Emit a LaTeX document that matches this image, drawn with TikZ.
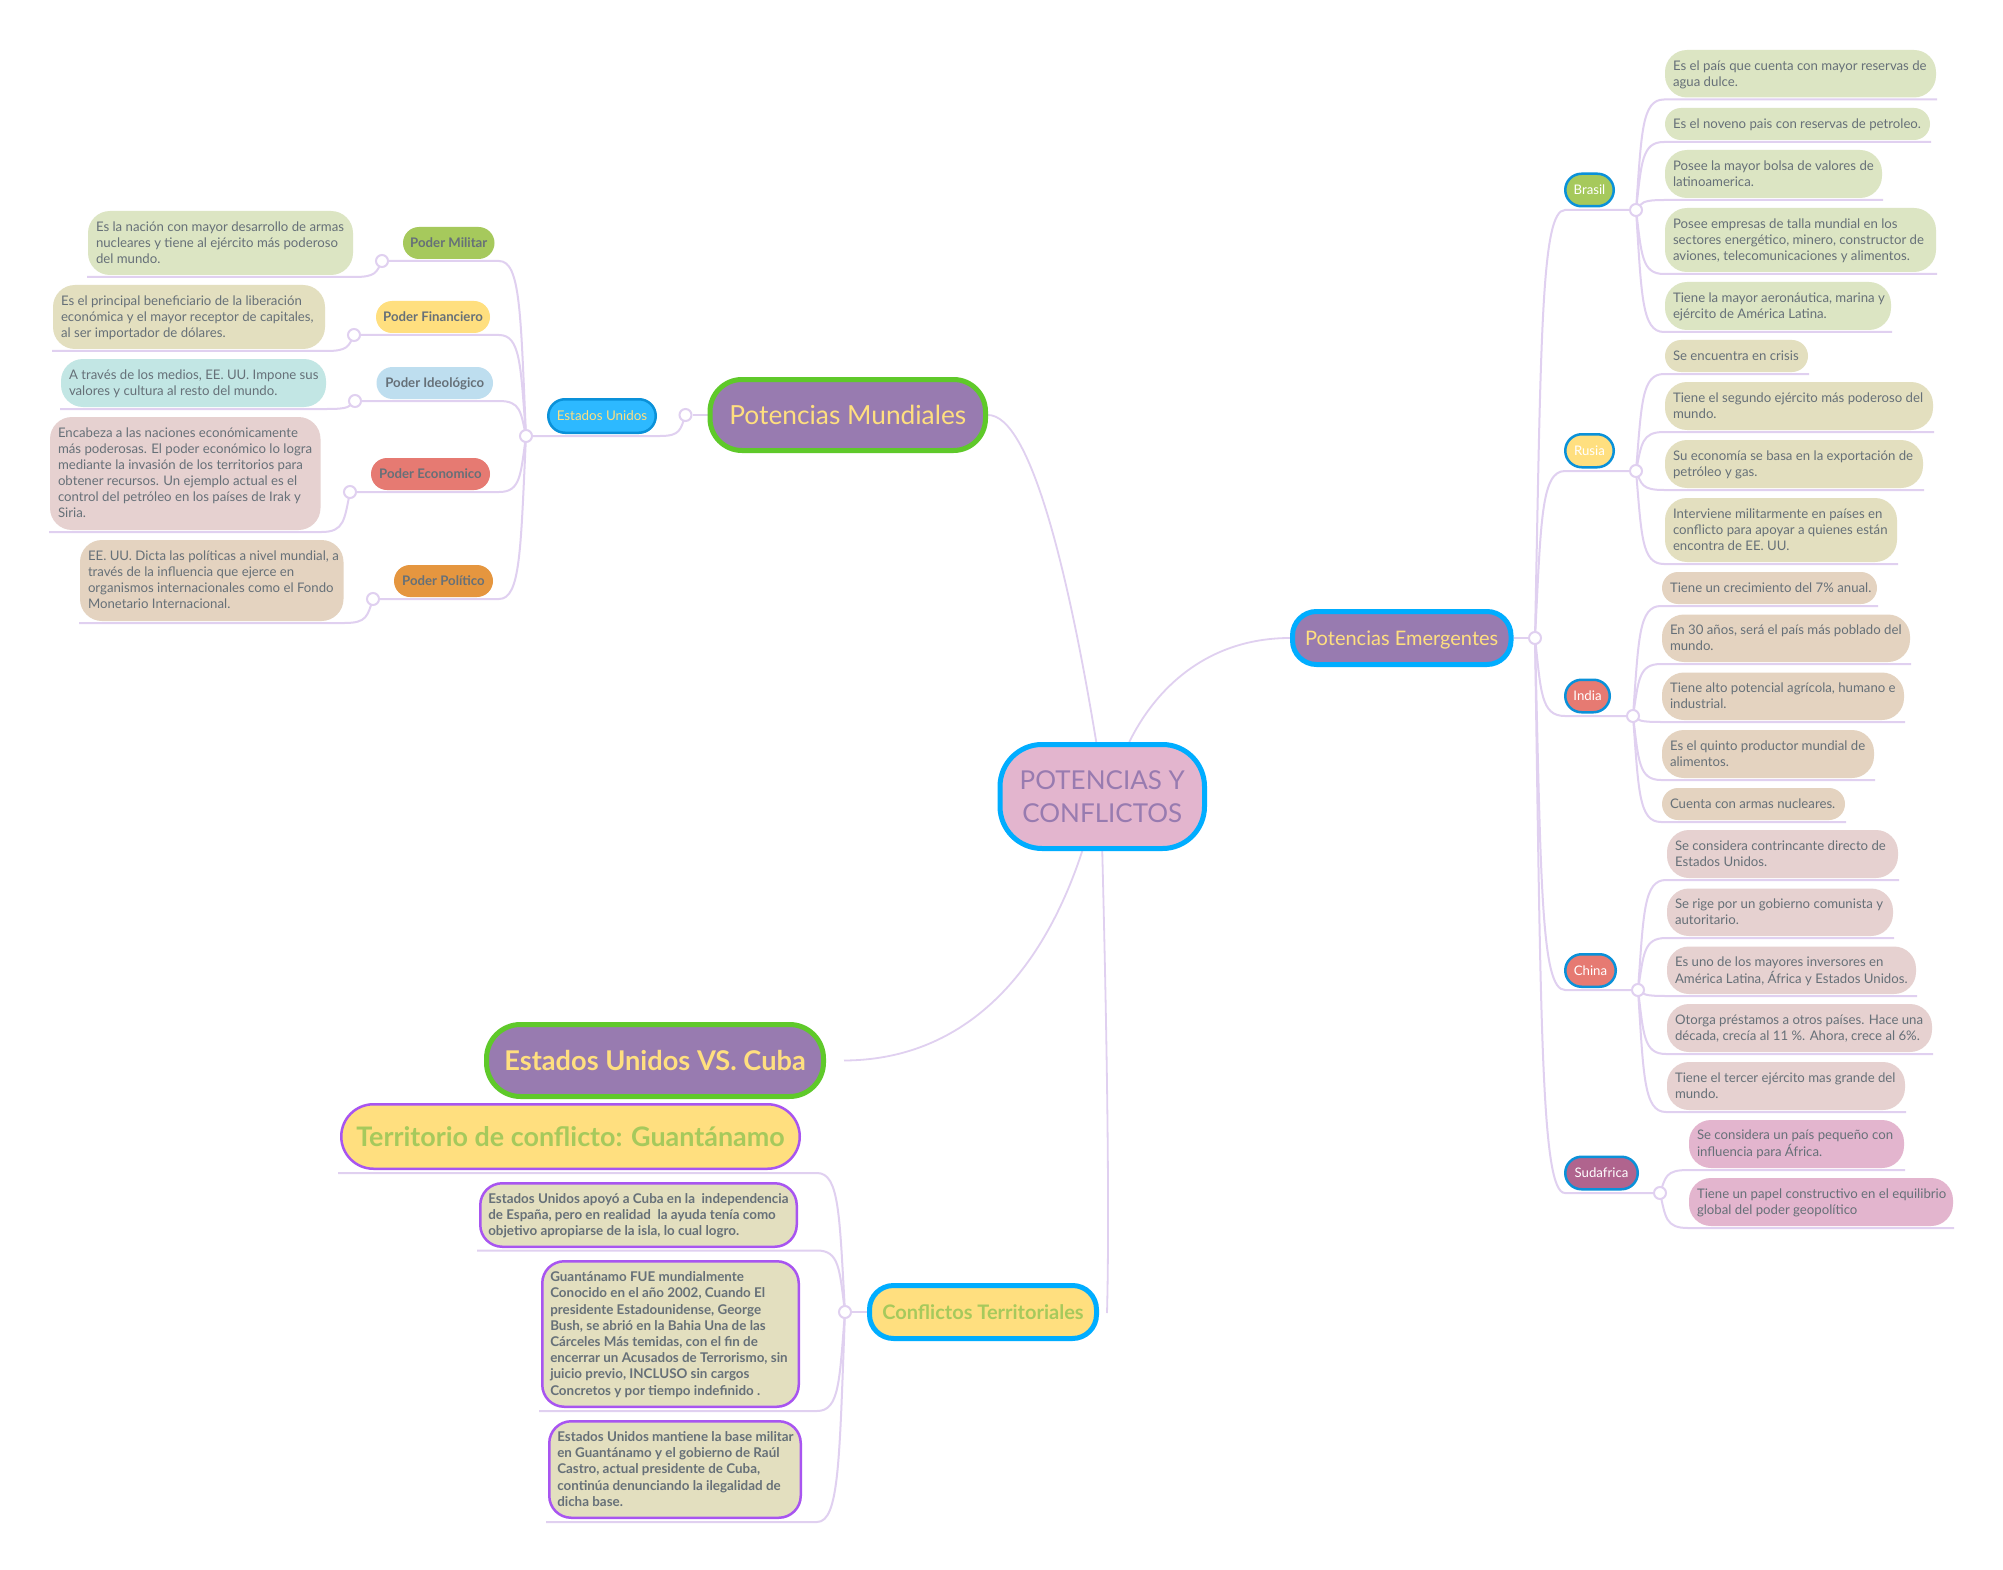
\documentclass[tikz,border=0pt]{standalone}
\usepackage{fontspec}
\setmainfont{Lato}
\usetikzlibrary{calc}
\pgfdeclarelayer{bg}
\pgfsetlayers{bg,main}
\definecolor{ln}{HTML}{E0D0F0}
\definecolor{tg}{HTML}{667078}
\definecolor{pur}{HTML}{987BB0}
\definecolor{pink}{HTML}{E3B5CE}
\definecolor{yel}{HTML}{FFDF7F}
\definecolor{grn}{HTML}{A6C95C}
\definecolor{redd}{HTML}{E67A72}
\definecolor{orng}{HTML}{E5963F}
\definecolor{lblue}{HTML}{BEDEEF}
\definecolor{mag}{HTML}{B0648E}
\definecolor{skyb}{HTML}{2DB9FF}
\definecolor{bdblue}{HTML}{00ADFF}
\definecolor{bdgreen}{HTML}{5FC92A}
\definecolor{bdpur}{HTML}{A855F0}
\definecolor{bdco}{HTML}{0A91D9}
\definecolor{lgreen}{HTML}{DCE5C3}
\definecolor{lkhaki}{HTML}{E3DFBF}
\definecolor{lsand}{HTML}{E4D3C0}
\definecolor{lrose}{HTML}{E6D1D0}
\definecolor{lteal}{HTML}{C2E6E4}
\tikzset{
  x=1pt,y=-1pt,
  conn/.style={draw=ln,line width=2pt},
  hubc/.style={circle,draw=ln,line width=2pt,fill=white,minimum size=12pt,inner sep=0pt},
  leaftxt/.style={text=tg,font=\fontsize{13.2}{16}\selectfont},
  smallb/.style={font=\fontsize{13.2}{15.6}\bfseries\selectfont,text=tg,text height=9.5pt,text depth=0pt},
  country/.style={draw=bdco,font=\fontsize{13.2}{15.6}\selectfont,text=white},
  confl/.style={draw=bdpur,text=tg,font=\fontsize{13.4}{16.2}\bfseries\selectfont},
}
% style, name, x1, y1, x2, y2, radius, line width, text
\newcommand\bx[9]{%
  \pgfmathsetmacro\bxw{#5-#3-#8}%
  \pgfmathsetmacro\bxh{#6-#4-#8}%
  \pgfmathsetmacro\bxr{min(\bxh/2-0.01,#7)}%
  \node[rectangle,align=left,#1,inner sep=0pt,line width=#8pt,rounded corners=\bxr pt,
        minimum width=\bxw pt,minimum height=\bxh pt] (#2) at ({(#3+#5)/2},{(#4+#6)/2}) {#9};
}
% left-aligned text block with a given side padding
\newcommand\lefttxt[2]{\makebox[\dimexpr\bxw pt-#1pt-#1pt\relax][l]{\raisebox{-1.2pt}[\height][\depth]{\begin{tabular}{@{}l@{}}#2\end{tabular}}}}
% leaf: fill, name, x1,y1,x2,y2, text; defines name-l and name-r on its underline
\newcommand\leaf[7]{%
  \bx{leaftxt,fill=#1}{#2}{#3}{#4}{#5}{#6}{22}{0}{\lefttxt{8}{#7}}%
  \coordinate (#2-l) at ({#3-1},{#6+2});
  \coordinate (#2-r) at ({#5+1},{#6+2});
}
% hub, near point, far point: curve then straight
\newcommand\conn[3]{%
  \path[conn] let \p1=(#1.center),\p2=(#2) in
    (\p1) .. controls ({\x1+0.2*(\x2-\x1)},{\y1+0.7*(\y2-\y1)}) and ({\x1+0.2*(\x2-\x1)},\y2) .. (\p2) -- (#3);
}
\begin{document}
\begin{tikzpicture}
\useasboundingbox (0,0) rectangle (2003,1570);

% --- main topics
\bx{draw=bdblue,fill=pink,text=pur,font=\fontsize{26}{33}\selectfont,align=center}{root}{997.5}{742}{1207}{851}{42}{5}{POTENCIAS Y\\CONFLICTOS}
\bx{draw=bdgreen,fill=pur,text=yel,font=\fontsize{26.3}{31}\selectfont}{pm}{707.5}{377}{988}{453}{32}{5}{Potencias Mundiales}
\bx{draw=bdblue,fill=pur,text=yel,font=\fontsize{20}{24}\selectfont,text height=14.5pt,text depth=0pt}{pe}{1290}{609}{1513.5}{667}{24}{5}{Potencias Emergentes}
\bx{draw=bdgreen,fill=pur,text=yel,font=\fontsize{27.2}{31}\bfseries\selectfont}{cu}{484}{1022}{826}{1099}{34}{5}{Estados Unidos VS. Cuba}
\bx{draw=bdblue,fill=yel,text=grn,font=\fontsize{20}{24}\bfseries\selectfont}{ct}{867}{1283}{1099}{1341}{24}{5}{Conflictos Territoriales}

% --- Estados Unidos branch
\bx{draw=bdco,fill=skyb,text=yel,font=\fontsize{13.4}{15.6}\selectfont}{eu}{547}{398}{657}{434}{18}{2.5}{Estados Unidos}
\coordinate (eu-r) at (660,436);
\node[hubc] (cpm) at (685.5,415) {};
\node[hubc] (heu) at (526,436) {};

\bx{smallb,fill=grn}{pmil}{403}{227}{494.5}{259}{16}{0}{Poder Militar}
\bx{smallb,fill=yel}{pfin}{376}{301}{490}{333}{16}{0}{Poder Financiero}
\bx{smallb,fill=lblue}{pide}{376.5}{367}{493}{399}{16}{0}{Poder Ideológico}
\bx{smallb,fill=redd}{peco}{371}{458}{490}{490}{16}{0}{Poder Economico}
\bx{smallb,fill=orng}{ppol}{394}{565}{493}{597}{16}{0}{Poder Político}
\coordinate (pmil-n) at (499,261);
\coordinate (pfin-n) at (499,335);
\coordinate (pide-n) at (499,401);
\coordinate (peco-n) at (499,492);
\coordinate (ppol-n) at (499,599);
\node[hubc] (cmil) at (382,261) {};
\node[hubc] (cfin) at (354,335) {};
\node[hubc] (cide) at (355,401) {};
\node[hubc] (ceco) at (350,492) {};
\node[hubc] (cpol) at (373,599) {};

\leaf{lgreen}{lmil}{88}{211}{353}{275}{Es la nación con mayor desarrollo de armas\\nucleares y tiene al ejército más poderoso\\del mundo.}
\leaf{lkhaki}{lfin}{53}{285}{325}{349}{Es el principal beneficiario de la liberación\\económica y el mayor receptor de capitales,\\al ser importador de dólares.}
\leaf{lteal}{lide}{61}{359}{326}{407}{A través de los medios, EE. UU. Impone sus\\valores y cultura al resto del mundo.}
\leaf{lrose}{leco}{50}{417}{320.5}{530}{Encabeza a las naciones económicamente\\más poderosas. El poder económico lo logra\\mediante la invasión de los territorios para\\obtener recursos. Un ejemplo actual es el\\control del petróleo en los países de Irak y\\Siria.}
\leaf{lsand}{lpol}{80}{540}{343.5}{621}{EE. UU. Dicta las políticas a nivel mundial, a\\través de la influencia que ejerce en\\organismos internacionales como el Fondo\\Monetario Internacional.}

% --- Emergentes branch
\node[hubc] (cpe) at (1535,638) {};
\bx{country,fill=grn}{bra}{1564}{172.5}{1615}{207.5}{17}{2.5}{Brasil}
\bx{country,fill=yel}{rus}{1564}{433}{1615}{468.5}{17}{2.5}{Rusia}
\bx{country,fill=redd}{ind}{1564}{678.5}{1611}{713.5}{17}{2.5}{India}
\bx{country,fill=redd}{chi}{1564}{953}{1617}{988}{17}{2.5}{China}
\bx{country,fill=mag}{sud}{1564}{1155.5}{1639}{1190.5}{17}{2.5}{Sudafrica}
\coordinate (bra-n) at (1565,210);
\coordinate (rus-n) at (1565,471);
\coordinate (ind-n) at (1565,716);
\coordinate (chi-n) at (1565,990);
\coordinate (sud-n) at (1565,1193);
\node[hubc] (cbra) at (1636,210) {};
\node[hubc] (crus) at (1636,471) {};
\node[hubc] (cind) at (1633,716) {};
\node[hubc] (cchi) at (1638,990) {};
\node[hubc] (csud) at (1660,1193) {};

\leaf{lgreen}{b1}{1665}{50}{1936}{97.5}{Es el país que cuenta con mayor reservas de\\agua dulce.}
\leaf{lgreen}{b2}{1665}{108}{1930}{140}{Es el noveno pais con reservas de petroleo.}
\leaf{lgreen}{b3}{1665}{150}{1882}{198}{Posee la mayor bolsa de valores de\\latinoamerica.}
\leaf{lgreen}{b4}{1665}{208}{1936}{272}{Posee empresas de talla mundial en los\\sectores energético, minero, constructor de\\aviones, telecomunicaciones y alimentos.}
\leaf{lgreen}{b5}{1665}{282}{1891}{330}{Tiene la mayor aeronáutica, marina y\\ejército de América Latina.}

\leaf{lkhaki}{r1}{1665}{340}{1808}{372}{Se encuentra en crisis}
\leaf{lkhaki}{r2}{1665}{382}{1933}{430}{Tiene el segundo ejército más poderoso del\\mundo.}
\leaf{lkhaki}{r3}{1665}{440}{1923}{488}{Su economía se basa en la exportación de\\petróleo y gas.}
\leaf{lkhaki}{r4}{1665}{498}{1897}{562}{Interviene militarmente en países en\\conflicto para apoyar a quienes están\\encontra de EE. UU.}

\leaf{lsand}{i1}{1662}{572}{1877}{604}{Tiene un crecimiento del 7\% anual.}
\leaf{lsand}{i2}{1662}{614.5}{1910}{662}{En 30 años, será el país más poblado del\\mundo.}
\leaf{lsand}{i3}{1662}{672.5}{1904}{720}{Tiene alto potencial agrícola, humano e\\industrial.}
\leaf{lsand}{i4}{1662}{730}{1874}{778}{Es el quinto productor mundial de\\alimentos.}
\leaf{lsand}{i5}{1662}{788}{1845}{820}{Cuenta con armas nucleares.}

\leaf{lrose}{c1}{1667}{830}{1898}{878}{Se considera contrincante directo de\\Estados Unidos.}
\leaf{lrose}{c2}{1667}{888.5}{1893}{936}{Se rige por un gobierno comunista y\\autoritario.}
\leaf{lrose}{c3}{1667}{946.5}{1916}{994}{Es uno de los mayores inversores en\\América Latina, África y Estados Unidos.}
\leaf{lrose}{c4}{1667}{1004}{1932}{1052}{Otorga préstamos a otros países. Hace una\\década, crecía al 11 \%. Ahora, crece al 6\%.}
\leaf{lrose}{c5}{1667}{1062}{1905}{1110}{Tiene el tercer ejército mas grande del\\mundo.}

\leaf{pink}{s1}{1689}{1120}{1904}{1168}{Se considera un país pequeño con\\influencia para África.}
\leaf{pink}{s2}{1689}{1178}{1953}{1226}{Tiene un papel constructivo en el equilibrio\\global del poder geopolítico}

% --- Conflictos branch
\node[hubc] (cct) at (845,1312) {};
\bx{draw=bdpur,fill=yel,text=grn,font=\fontsize{26.9}{31}\bfseries\selectfont}{te}{340}{1103}{801}{1170}{36}{2.5}{Territorio de conflicto: Guantánamo}
\bx{confl,fill=lkhaki}{k1}{479}{1182}{798}{1248}{22}{2.5}{\lefttxt{8}{Estados Unidos apoyó a Cuba en la~ independencia\\de España, pero en realidad~ la ayuda tenía como\\objetivo apropiarse de la isla, lo cual logro.}}
\bx{confl,fill=lkhaki}{k2}{541}{1260}{800}{1408}{22}{2.5}{\lefttxt{8}{Guantánamo FUE mundialmente\\Conocido en el año 2002, Cuando El\\presidente Estadounidense, George\\Bush, se abrió en la Bahia Una de las\\Cárceles Más temidas, con el fin de\\encerrar un Acusados de Terrorismo, sin\\juicio previo, INCLUSO sin cargos\\Concretos y por tiempo indefinido .}}
\bx{confl,fill=lkhaki}{k3}{548}{1420}{802}{1519}{22}{2.5}{\lefttxt{8}{Estados Unidos mantiene la base militar\\en Guantánamo y el gobierno de Raúl\\Castro, actual presidente de Cuba,\\continúa denunciando la ilegalidad de\\dicha base.}}
\coordinate (te-n) at (817,1173);
\coordinate (te-f) at (338,1173);
\coordinate (k1-n) at (817,1250.5);
\coordinate (k1-f) at (477,1250.5);
\coordinate (k2-n) at (817,1411);
\coordinate (k2-f) at (539,1411);
\coordinate (k3-n) at (817,1522);
\coordinate (k3-f) at (546,1522);
\coordinate (ctend) at (1107,1313);

\begin{pgfonlayer}{bg}
\fill[white] (0,0) rectangle (2003,1570);
\draw[conn,line width=1.8pt] (pm.east) .. controls (1030,415) and (1068,570) .. ([xshift=-6pt]root.north);
\draw[conn,line width=1.8pt] (pe.west) .. controls (1215,638) and (1160,680) .. ([xshift=27pt]root.north);
\draw[conn,line width=1.8pt] (cu.east) ++(18,0) .. controls (960,1060) and (1040,980) .. ([xshift=-20pt]root.south);
\draw[conn,line width=1.8pt] (root.south) .. controls (1106,1000) and (1110,1200) .. (ctend);
\draw[conn] (cpm) -- (pm.west);
\conn{cpm}{eu-r}{heu}
\conn{heu}{pmil-n}{cmil}
\conn{heu}{pfin-n}{cfin}
\conn{heu}{pide-n}{cide}
\conn{heu}{peco-n}{ceco}
\conn{heu}{ppol-n}{cpol}
\conn{cmil}{lmil-r}{lmil-l}
\conn{cfin}{lfin-r}{lfin-l}
\conn{cide}{lide-r}{lide-l}
\conn{ceco}{leco-r}{leco-l}
\conn{cpol}{lpol-r}{lpol-l}
\draw[conn] (pe.east) -- (cpe);
\conn{cpe}{bra-n}{cbra}
\conn{cpe}{rus-n}{crus}
\conn{cpe}{ind-n}{cind}
\conn{cpe}{chi-n}{cchi}
\conn{cpe}{sud-n}{csud}
\conn{cbra}{b1-l}{b1-r}
\conn{cbra}{b2-l}{b2-r}
\conn{cbra}{b3-l}{b3-r}
\conn{cbra}{b4-l}{b4-r}
\conn{cbra}{b5-l}{b5-r}
\conn{crus}{r1-l}{r1-r}
\conn{crus}{r2-l}{r2-r}
\conn{crus}{r3-l}{r3-r}
\conn{crus}{r4-l}{r4-r}
\conn{cind}{i1-l}{i1-r}
\conn{cind}{i2-l}{i2-r}
\conn{cind}{i3-l}{i3-r}
\conn{cind}{i4-l}{i4-r}
\conn{cind}{i5-l}{i5-r}
\conn{cchi}{c1-l}{c1-r}
\conn{cchi}{c2-l}{c2-r}
\conn{cchi}{c3-l}{c3-r}
\conn{cchi}{c4-l}{c4-r}
\conn{cchi}{c5-l}{c5-r}
\conn{csud}{s1-l}{s1-r}
\conn{csud}{s2-l}{s2-r}
\draw[conn] (ct.west) -- (cct);
\conn{cct}{te-n}{te-f}
\conn{cct}{k1-n}{k1-f}
\conn{cct}{k2-n}{k2-f}
\conn{cct}{k3-n}{k3-f}
\end{pgfonlayer}
\end{tikzpicture}
\end{document}
